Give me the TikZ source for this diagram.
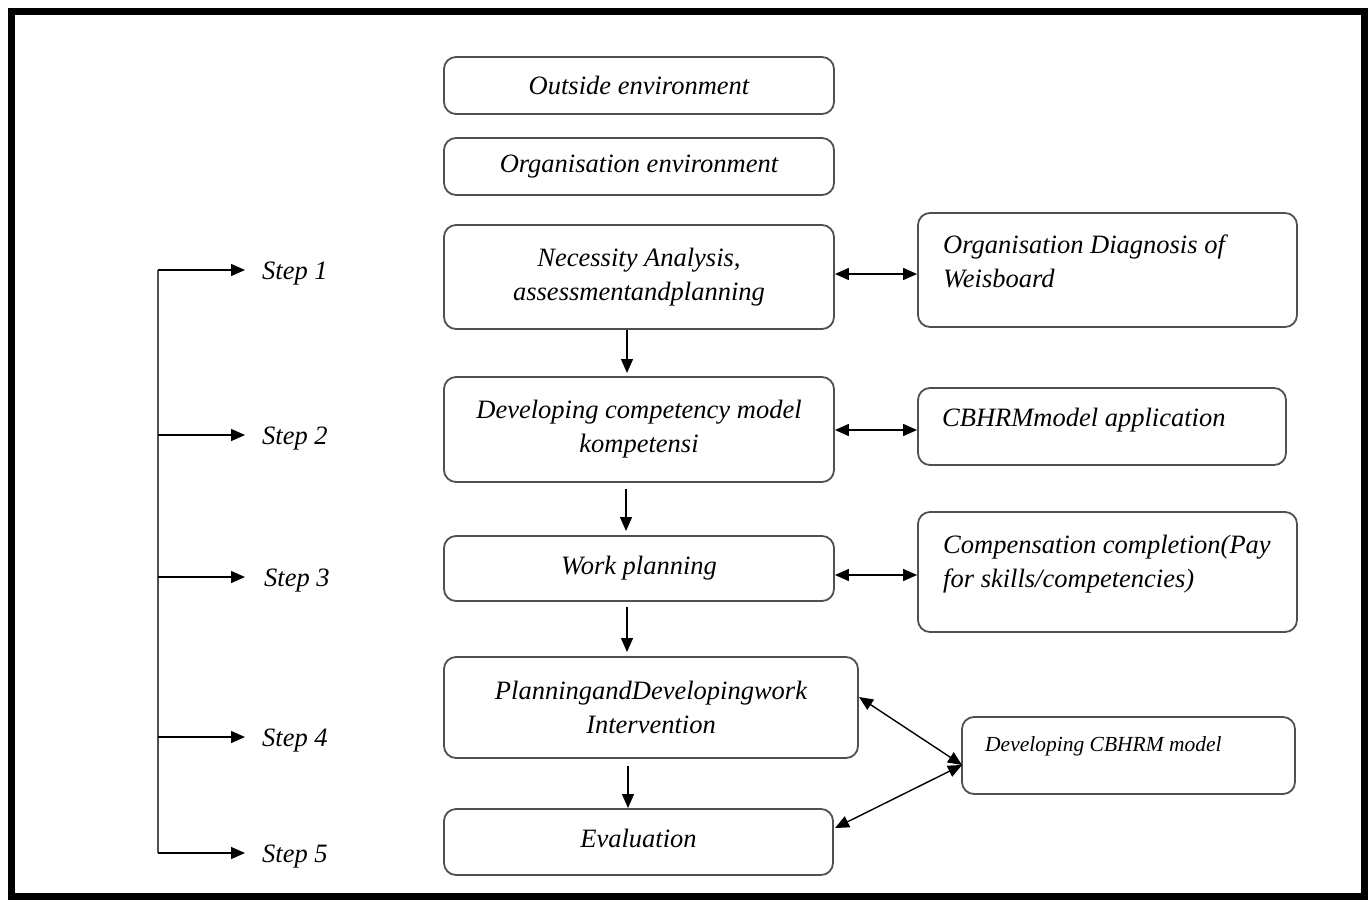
\documentclass[tikz,border=0pt]{standalone}
\usepackage{fontspec}
\setmainfont{Liberation Serif}
\usetikzlibrary{arrows.meta}
\definecolor{boxgray}{HTML}{505050}
\tikzset{
  x=1pt, y=-1pt,
  box/.style={draw=boxgray, line width=1.8pt, rounded corners=12pt, inner sep=0pt,
    align=center, font=\fontsize{26.5}{34}\selectfont\itshape},
  lbl/.style={anchor=north west, inner sep=0pt, align=left,
    font=\fontsize{26.5}{34}\selectfont\itshape},
  steplbl/.style={anchor=west, inner sep=0pt, font=\fontsize{26.5}{30}\selectfont\itshape},
  flow/.style={line width=1.4pt, -{Triangle[length=14pt,width=12pt]}},
  link/.style={line width=1.4pt, {Triangle[length=14pt,width=12pt]}-{Triangle[length=14pt,width=12pt]}},
}
\begin{document}
\begin{tikzpicture}
\useasboundingbox (0,0) rectangle (1368,900);
% frame
\draw[line width=7pt] (11,11) rectangle (1364,896);

% central column
\node[box, minimum width=390, minimum height=57] (oe) at (639,85.5) {Outside environment};
\node[box, minimum width=390, minimum height=57] (orge) at (639,166.5) {Organisation environment};
\node[box, minimum width=390, minimum height=104] (na) at (639,277) {Necessity Analysis,\\assessmentandplanning};
\node[box, minimum width=390, minimum height=105] (dc) at (639,429.5) {Developing competency model\\kompetensi};
\node[box, minimum width=390, minimum height=65] (wp) at (639,568.5) {Work planning};
\node[box, minimum width=414, minimum height=101] (pd) at (651,707.5) {PlanningandDevelopingwork\\Intervention};
\node[box, minimum width=389, minimum height=66] (ev) at (638.5,842) {};
\node[inner sep=0pt, font=\fontsize{26.5}{34}\selectfont\itshape] (evt) at (638.5,838) {Evaluation};

% right column
\node[box, minimum width=379, minimum height=114] (od) at (1107.5,270) {};
\node[lbl] (odt) at (943,235) {Organisation Diagnosis of\\Weisboard};
\node[box, minimum width=368, minimum height=77] (cb) at (1102,426.5) {};
\node[lbl] (cbt) at (942,408) {CBHRMmodel application};
\node[box, minimum width=379, minimum height=120] (cp) at (1107.5,572) {};
\node[lbl] (cpt) at (943,535) {Compensation completion(Pay\\for skills/competencies)};
\node[box, minimum width=333, minimum height=77] (dm) at (1128.5,755.5) {};
\node[lbl, font=\fontsize{21.5}{26}\selectfont\itshape] (dmt) at (985,736) {Developing CBHRM model};

% flow between steps
\draw[flow] (na.south -| 627,0) -- (627,373);
\draw[flow] (626,489) -- (626,531);
\draw[flow] (627,607) -- (627,652);
\draw[flow] (628,766) -- (628,808);

% links to the right column
\draw[link] (na.east |- 0,274) -- (od.west |- 0,274);
\draw[link] (dc.east |- 0,430) -- (cb.west |- 0,430);
\draw[link] (wp.east |- 0,575) -- (cp.west |- 0,575);
\coordinate (dmin) at (962,765);
\draw[link] (859,697) -- (dmin);
\draw[link] (835,828) -- (dmin);

% step bracket
\coordinate (top) at (158,270);
\coordinate (bot) at (158,853);
\draw[line width=1.4pt, draw=boxgray] (top) -- (bot);
\foreach \yy/\n/\xx in {270/1/262, 435/2/262, 577/3/264, 737/4/262, 853/5/262}{
  \draw[flow] (158,\yy) -- (245,\yy);
  \node[steplbl] (s\n) at (\xx,\yy+4) {Step \n};
}
\end{tikzpicture}
\end{document}
